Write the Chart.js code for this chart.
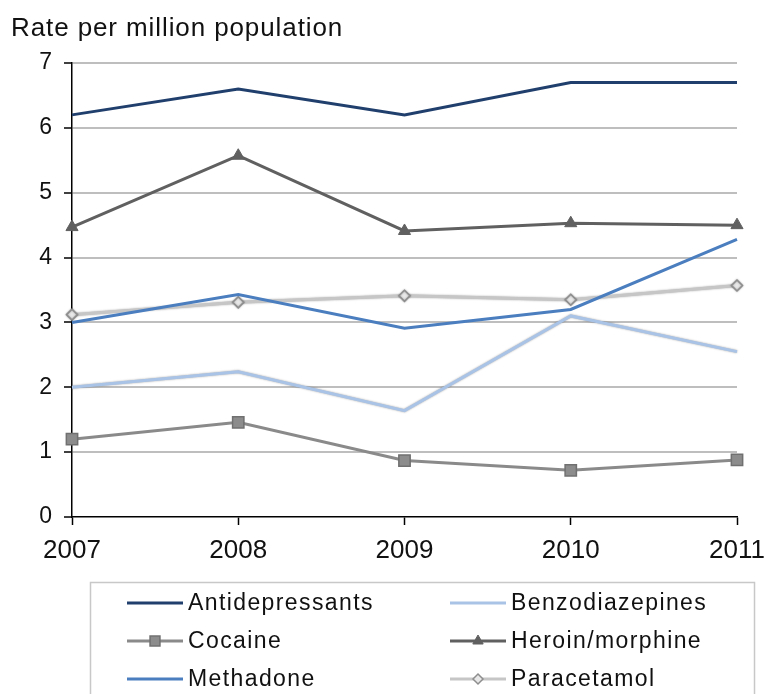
<!DOCTYPE html>
<html>
<head>
<meta charset="utf-8">
<script src="https://cdn.jsdelivr.net/npm/chart.js"></script>
<style>
  html, body { margin: 0; padding: 0; background: #fff; }
  #wrap { width: 764px; height: 694px; position: relative; }
  canvas { display: block; }
</style>
</head>
<body>
<div id="wrap"><canvas id="chart" width="764" height="694"></canvas></div>
<script>
// Rate per million population, by substance, 2007-2011
const years = ['2007', '2008', '2009', '2010', '2011'];
const antidepressants = [6.2, 6.6, 6.2, 6.7, 6.7];
const benzodiazepines = [2.0, 2.24, 1.64, 3.1, 2.55];
const cocaine = [1.2, 1.46, 0.87, 0.72, 0.88];
const heroinMorphine = [4.47, 5.57, 4.41, 4.53, 4.5];
const methadone = [3.0, 3.43, 2.91, 3.2, 4.28];
const paracetamol = [3.12, 3.31, 3.41, 3.35, 3.57];
const yTicks = [0, 1, 2, 3, 4, 5, 6, 7];
const yAxisTitle = 'Rate per million population';

const FONT = '"Liberation Sans", Arial, sans-serif';

const datasets = [
  { label: 'Antidepressants', data: antidepressants, borderColor: '#213F6C', backgroundColor: '#213F6C',
    pointRadius: 0, legendRadius: 0 },
  { label: 'Benzodiazepines', data: benzodiazepines, borderColor: '#A9C3E6', backgroundColor: '#A9C3E6',
    pointRadius: 0, legendRadius: 0, softEdge: true },
  { label: 'Cocaine', data: cocaine, borderColor: '#8A8A8A', backgroundColor: '#8C8C8C',
    pointStyle: 'rect', pointRadius: 8, pointBorderColor: '#707070', pointBorderWidth: 1.5,
    pointBackgroundColor: '#8C8C8C', legendRadius: 7 },
  { label: 'Heroin/morphine', data: heroinMorphine, borderColor: '#606060', backgroundColor: '#606060',
    pointStyle: 'triangle', pointRadius: 7, pointBorderColor: '#606060', pointBorderWidth: 1,
    pointBackgroundColor: '#606060', legendRadius: 6 },
  { label: 'Methadone', data: methadone, borderColor: '#4A7EBF', backgroundColor: '#4A7EBF',
    pointRadius: 0, legendRadius: 0 },
  { label: 'Paracetamol', data: paracetamol, borderColor: '#C6C6C6', backgroundColor: '#E6E6E6',
    pointStyle: 'rectRot', pointRadius: 5.5, pointBorderColor: '#8E8E8E', pointBorderWidth: 1.5,
    pointBackgroundColor: '#E8E8E8', legendRadius: 5, softEdge: true }
].map(d => Object.assign({ borderWidth: 3, tension: 0, fill: false, clip: false }, d));

// Light series get a faint grey edge so they stay visible on white
const softEdges = {
  id: 'softEdges',
  beforeDatasetDraw(chart, args) {
    const ds = chart.data.datasets[args.index];
    if (!ds.softEdge) return;
    const ctx = chart.ctx;
    ctx.save();
    ctx.shadowColor = 'rgba(0,0,0,0.35)';
    ctx.shadowBlur = 2;
    ctx.shadowOffsetX = 0;
    ctx.shadowOffsetY = 0;
  },
  afterDatasetDraw(chart, args) {
    const ds = chart.data.datasets[args.index];
    if (ds.softEdge) chart.ctx.restore();
  }
};

// Axis title drawn above the plot, left aligned
const titlePlugin = {
  id: 'axisTitle',
  afterDraw(chart) {
    const ctx = chart.ctx;
    ctx.save();
    ctx.font = '26px ' + FONT;
    ctx.letterSpacing = '0.9px';
    ctx.fillStyle = '#111';
    ctx.textBaseline = 'alphabetic';
    ctx.textAlign = 'left';
    ctx.fillText(yAxisTitle, 11, 36);
    ctx.restore();
  }
};

// Boxed two-column legend under the x axis
const boxLegend = {
  id: 'boxLegend',
  afterDraw(chart) {
    const ctx = chart.ctx;
    const cols = [127, 450];
    const rows = [603, 641, 679];
    const lineLen = 56;
    ctx.save();
    ctx.strokeStyle = '#C8C8C8';
    ctx.lineWidth = 1.5;
    ctx.strokeRect(90.5, 582.5, 664, 130);
    chart.data.datasets.forEach((ds, i) => {
      const x0 = cols[i % 2];
      const y = rows[Math.floor(i / 2)];
      ctx.strokeStyle = ds.borderColor;
      ctx.lineWidth = 3;
      ctx.beginPath();
      ctx.moveTo(x0, y);
      ctx.lineTo(x0 + lineLen, y);
      ctx.stroke();
      if (ds.legendRadius > 0) {
        ctx.fillStyle = ds.pointBackgroundColor;
        ctx.strokeStyle = ds.pointBorderColor;
        ctx.lineWidth = ds.pointBorderWidth;
        Chart.helpers.drawPoint(ctx, {
          pointStyle: ds.pointStyle, radius: ds.legendRadius, rotation: 0, borderWidth: ds.pointBorderWidth
        }, x0 + lineLen / 2, y);
      }
      ctx.font = '23px ' + FONT;
      ctx.letterSpacing = '1.4px';
      ctx.fillStyle = '#111';
      ctx.textBaseline = 'middle';
      ctx.textAlign = 'left';
      ctx.fillText(ds.label, x0 + lineLen + 5, y + 1);
    });
    ctx.restore();
  }
};

new Chart(document.getElementById('chart'), {
  type: 'line',
  data: { labels: years, datasets },
  plugins: [softEdges, titlePlugin, boxLegend],
  options: {
    responsive: false,
    animation: false,
    devicePixelRatio: 1,
    layout: { padding: { top: 63, right: 27, left: 0, bottom: 117 } },
    plugins: { legend: { display: false }, tooltip: { enabled: false } },
    scales: {
      x: {
        type: 'category',
        offset: false,
        grid: { display: true, drawOnChartArea: false, drawTicks: true, tickLength: 8, tickColor: '#000', tickWidth: 1.5 },
        border: { display: true, color: '#000', width: 1.5 },
        ticks: { color: '#111', font: { family: FONT, size: 26 }, padding: 10, maxRotation: 0, autoSkip: false },
        afterFit(s) { s.height = 60; s.paddingLeft = 0; s.paddingRight = 0; }
      },
      y: {
        min: 0,
        max: 7,
        afterBuildTicks(s) { s.ticks = yTicks.map(v => ({ value: v })); },
        ticks: { color: '#111', font: { family: FONT, size: 23 }, padding: 12 },
        grid: {
          color: c => (c.tick && c.tick.value === 0) ? 'rgba(0,0,0,0)' : '#BEBEBE',
          lineWidth: 2, tickColor: '#000', tickLength: 8, tickWidth: 1.5
        },
        border: { display: true, color: '#000', width: 1.5 },
        afterFit(s) { s.width = 72; s.paddingTop = 0; s.paddingBottom = 0; }
      }
    }
  }
});
</script>
</body>
</html>
